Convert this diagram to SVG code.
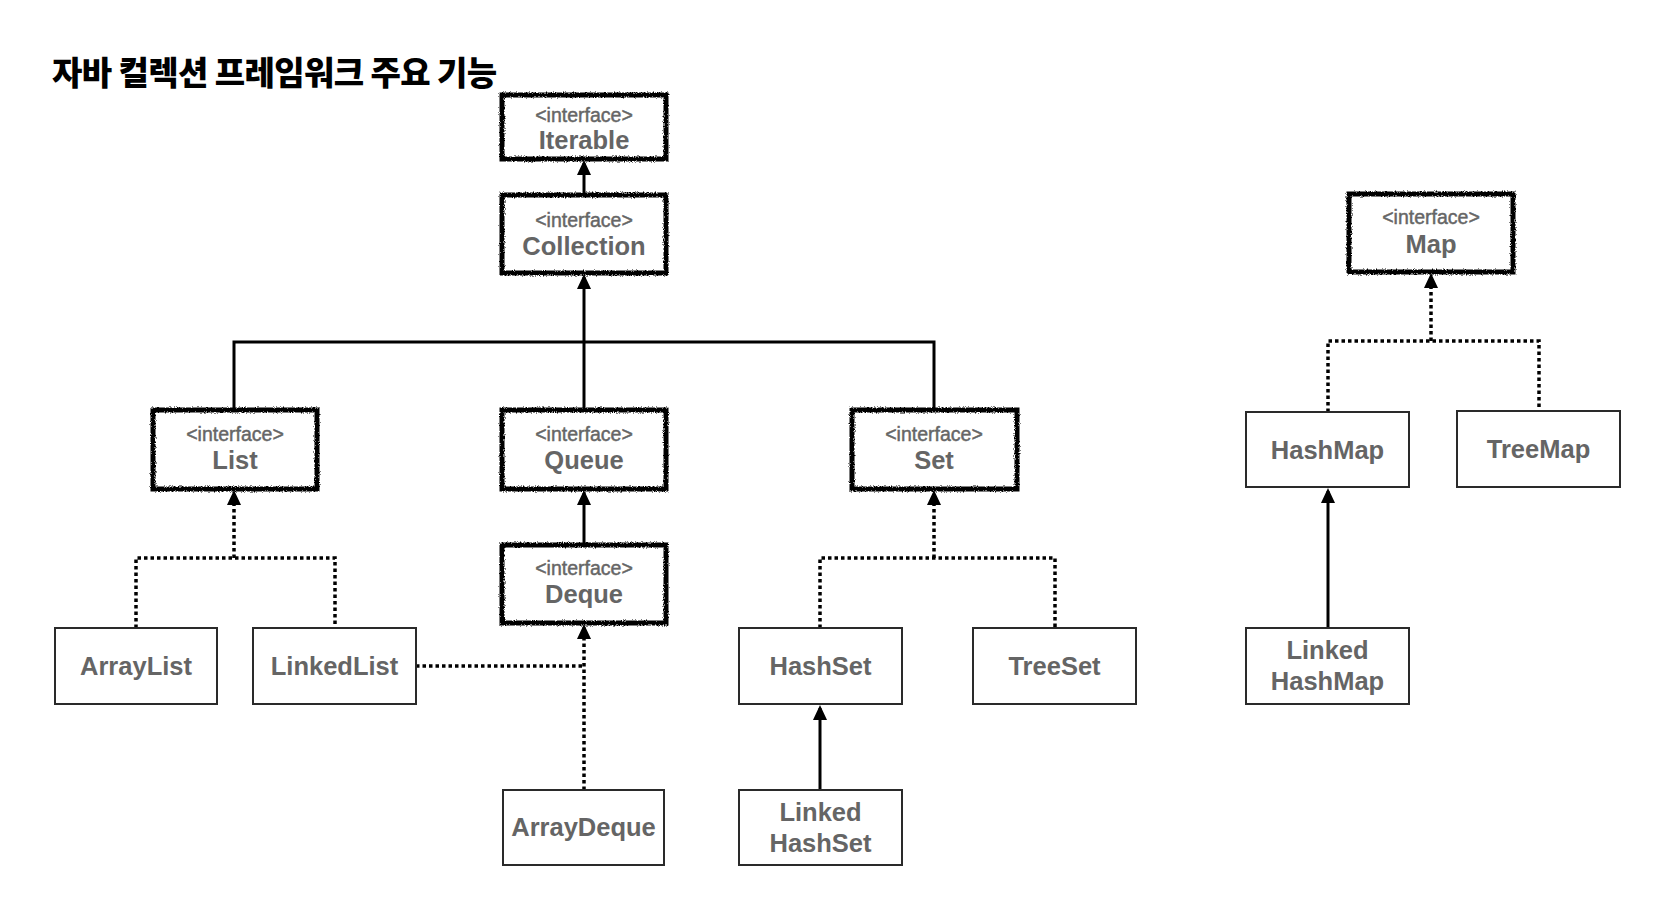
<svg xmlns="http://www.w3.org/2000/svg" width="1668" height="898" viewBox="0 0 1668 898">
  <style>
    .title { font-family: "Noto Sans CJK KR", "Noto Sans", sans-serif; font-weight: 900; font-size: 33px; fill: #000; letter-spacing: -0.6px; }
    .iface { font-family: "Liberation Sans", Arial, sans-serif; font-size: 19.5px; fill: #666; stroke: #666; stroke-width: 0.45; text-anchor: middle; }
    .name { font-family: "Liberation Sans", Arial, sans-serif; font-weight: 700; font-size: 25.5px; fill: #656565; text-anchor: middle; }
    .ibox { fill: #fff; stroke: #000; stroke-width: 5; filter: url(#rough); }
    .cbox { fill: #fff; stroke: #2a2a2a; stroke-width: 2; }
    .solid { fill: none; stroke: #000; stroke-width: 3; }
    .dot { fill: none; stroke: #000; stroke-width: 3.5; stroke-dasharray: 3.5 3; }
  </style>
  <defs>
    <filter id="rough" x="-5%" y="-10%" width="110%" height="120%">
      <feTurbulence type="fractalNoise" baseFrequency="0.9" numOctaves="2" seed="4" result="noise"/>
      <feDisplacementMap in="SourceGraphic" in2="noise" scale="3.5" xChannelSelector="R" yChannelSelector="G"/>
    </filter>
    <marker id="arrow" markerUnits="userSpaceOnUse" markerWidth="16" markerHeight="16" refX="12" refY="7" orient="auto">
      <path d="M0,0 L15,7 L0,14 z" fill="#000"/>
    </marker>
  </defs>
  <rect x="0" y="0" width="1668" height="898" fill="#fff"/>

  <text class="title" x="52" y="85">자바 컬렉션 프레임워크 주요 기능</text>

  <g id="connectors">
    <!-- Collection -> Iterable -->
    <path class="solid" d="M584,195 V163" marker-end="url(#arrow)"/>
    <!-- List/Queue/Set -> Collection -->
    <path class="solid" d="M234,410 V342 H934 V410"/>
    <path class="solid" d="M584,410 V277" marker-end="url(#arrow)"/>
    <!-- ArrayList, LinkedList -> List -->
    <path class="dot" d="M136,628 V558 H335 V628"/>
    <path class="dot" d="M234,558 V493" marker-end="url(#arrow)"/>
    <!-- Deque -> Queue -->
    <path class="solid" d="M584,545 V493" marker-end="url(#arrow)"/>
    <!-- ArrayDeque, LinkedList -> Deque -->
    <path class="dot" d="M416,666 H584"/>
    <path class="dot" d="M584,790 V627" marker-end="url(#arrow)"/>
    <!-- HashSet, TreeSet -> Set -->
    <path class="dot" d="M820,628 V558 H1055 V628"/>
    <path class="dot" d="M934,558 V493" marker-end="url(#arrow)"/>
    <!-- LinkedHashSet -> HashSet -->
    <path class="solid" d="M820,790 V708" marker-end="url(#arrow)"/>
    <!-- HashMap, TreeMap -> Map -->
    <path class="dot" d="M1328,412 V341 H1539 V411"/>
    <path class="dot" d="M1431,341 V276" marker-end="url(#arrow)"/>
    <!-- LinkedHashMap -> HashMap -->
    <path class="solid" d="M1328,628 V491" marker-end="url(#arrow)"/>
  </g>

  <g id="node-iterable">
    <rect class="ibox" x="502" y="95" width="164" height="64"/>
    <text class="iface" x="584" y="122">&lt;interface&gt;</text>
    <text class="name" x="584" y="149">Iterable</text>
  </g>
  <g id="node-collection">
    <rect class="ibox" x="502" y="195" width="164" height="78"/>
    <text class="iface" x="584" y="227">&lt;interface&gt;</text>
    <text class="name" x="584" y="255">Collection</text>
  </g>
  <g id="node-list">
    <rect class="ibox" x="153" y="410" width="164" height="79"/>
    <text class="iface" x="235" y="441">&lt;interface&gt;</text>
    <text class="name" x="235" y="469">List</text>
  </g>
  <g id="node-queue">
    <rect class="ibox" x="502" y="410" width="164" height="79"/>
    <text class="iface" x="584" y="441">&lt;interface&gt;</text>
    <text class="name" x="584" y="469">Queue</text>
  </g>
  <g id="node-set">
    <rect class="ibox" x="852" y="410" width="165" height="79"/>
    <text class="iface" x="934" y="441">&lt;interface&gt;</text>
    <text class="name" x="934" y="469">Set</text>
  </g>
  <g id="node-deque">
    <rect class="ibox" x="502" y="545" width="164" height="78"/>
    <text class="iface" x="584" y="575">&lt;interface&gt;</text>
    <text class="name" x="584" y="603">Deque</text>
  </g>
  <g id="node-map">
    <rect class="ibox" x="1349" y="194" width="164" height="78"/>
    <text class="iface" x="1431" y="224">&lt;interface&gt;</text>
    <text class="name" x="1431" y="253">Map</text>
  </g>

  <g id="node-arraylist">
    <rect class="cbox" x="55" y="628" width="162" height="76"/>
    <text class="name" x="136" y="675">ArrayList</text>
  </g>
  <g id="node-linkedlist">
    <rect class="cbox" x="253" y="628" width="163" height="76"/>
    <text class="name" x="334.5" y="675">LinkedList</text>
  </g>
  <g id="node-hashset">
    <rect class="cbox" x="739" y="628" width="163" height="76"/>
    <text class="name" x="820.5" y="675">HashSet</text>
  </g>
  <g id="node-treeset">
    <rect class="cbox" x="973" y="628" width="163" height="76"/>
    <text class="name" x="1054.5" y="675">TreeSet</text>
  </g>
  <g id="node-arraydeque">
    <rect class="cbox" x="503" y="790" width="161" height="75"/>
    <text class="name" x="583.5" y="836">ArrayDeque</text>
  </g>
  <g id="node-linkedhashset">
    <rect class="cbox" x="739" y="790" width="163" height="75"/>
    <text class="name" x="820.5" y="821">Linked</text>
    <text class="name" x="820.5" y="852">HashSet</text>
  </g>
  <g id="node-hashmap">
    <rect class="cbox" x="1246" y="412" width="163" height="75"/>
    <text class="name" x="1327.5" y="459">HashMap</text>
  </g>
  <g id="node-treemap">
    <rect class="cbox" x="1457" y="411" width="163" height="76"/>
    <text class="name" x="1538.5" y="458">TreeMap</text>
  </g>
  <g id="node-linkedhashmap">
    <rect class="cbox" x="1246" y="628" width="163" height="76"/>
    <text class="name" x="1327.5" y="659">Linked</text>
    <text class="name" x="1327.5" y="690">HashMap</text>
  </g>
</svg>
